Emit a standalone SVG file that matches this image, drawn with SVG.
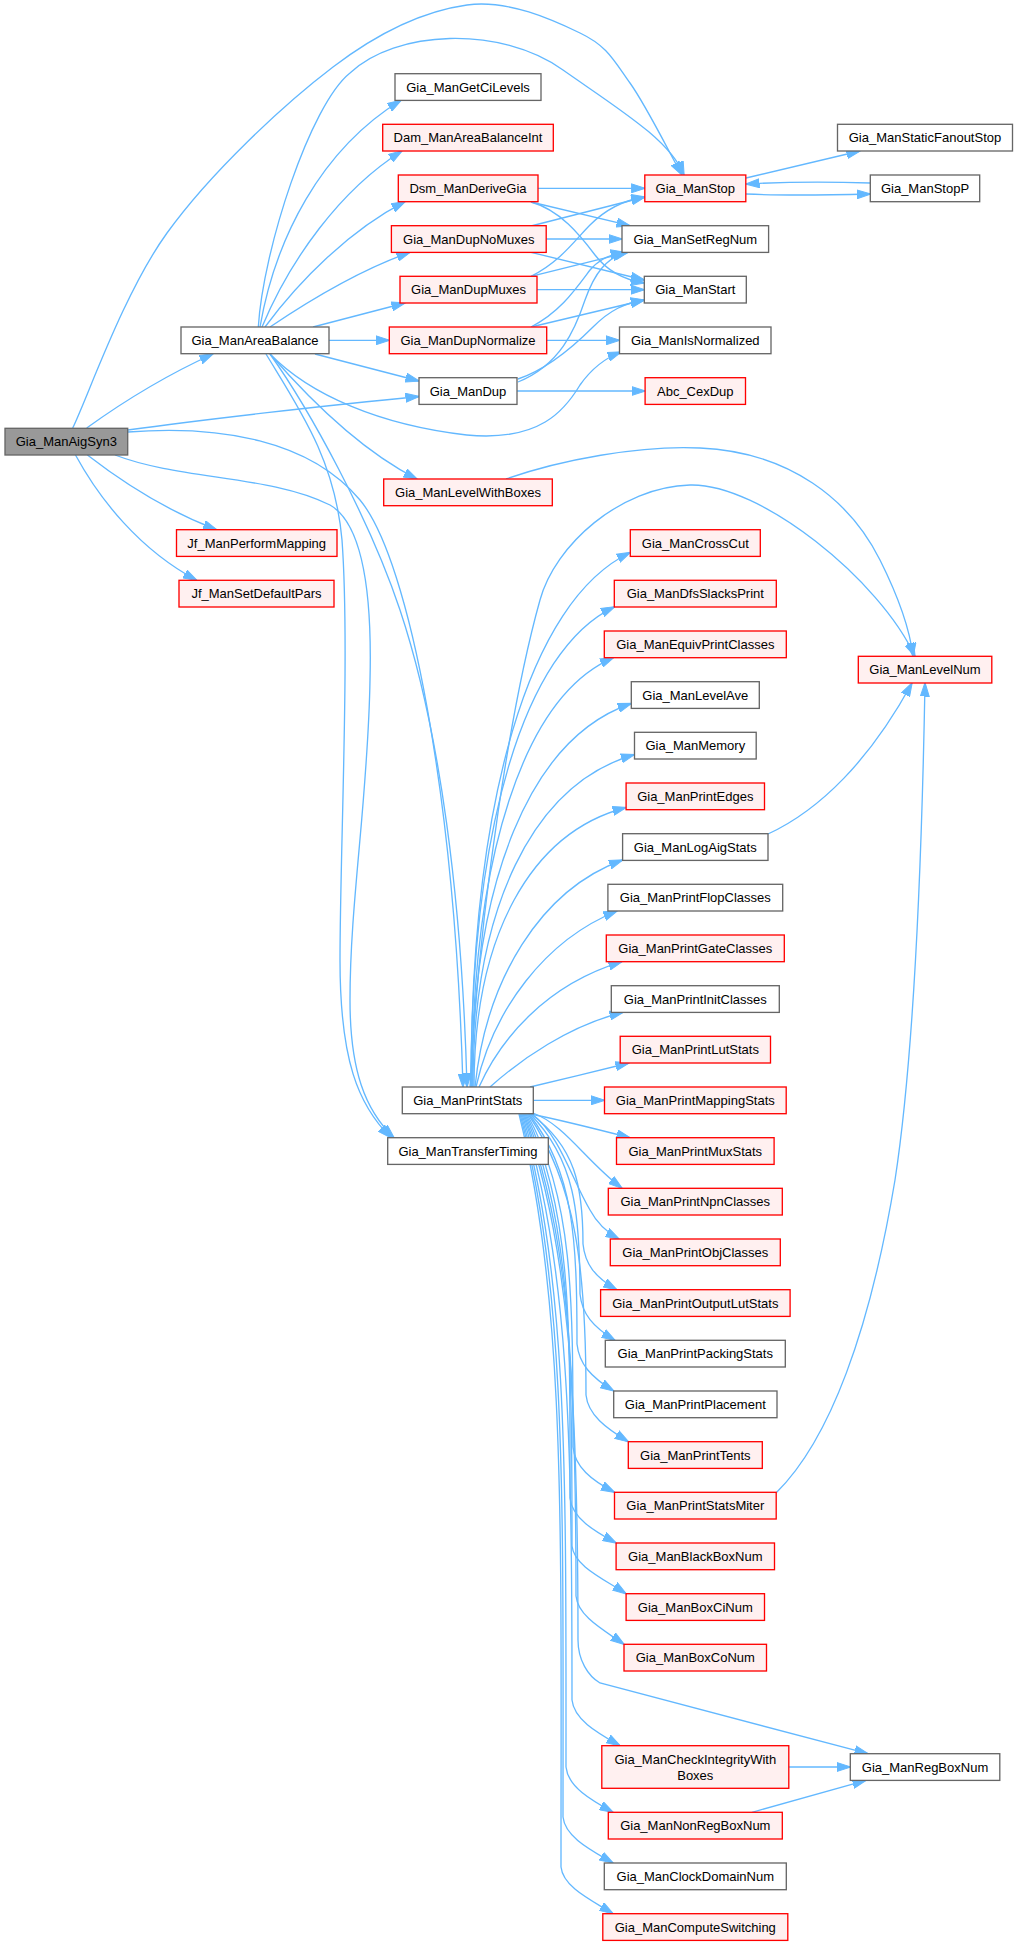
<svg xmlns="http://www.w3.org/2000/svg" width="1017" height="1946" viewBox="0 0 1017 1946">
<style>
.n rect{fill:#ffffff;stroke:#666666;stroke-width:1.33}
.r rect{fill:#fff0f0;stroke:#ff0000;stroke-width:1.33}
.root rect{fill:#999999;stroke:#666666;stroke-width:1.33}
text{font-family:"Liberation Sans",Arial,Helvetica,sans-serif;font-size:13px;text-anchor:middle;fill:#000000}
#edges path{fill:none;stroke:#63b8ff;stroke-width:1.33;marker-end:url(#a)}
</style>
<defs>
<marker id="a" viewBox="0 0 14 10" refX="13.5" refY="5" markerWidth="14" markerHeight="10" markerUnits="userSpaceOnUse" orient="auto">
<path d="M0,0.5 L14,5 L0,9.5 z" fill="#63b8ff" stroke="#63b8ff" stroke-width="1"/>
</marker>
</defs>
<rect x="0" y="0" width="1017" height="1946" fill="#ffffff"/>
<g id="edges">
<path d="M72.7,428 C88.4,395.5 123.6,293.2 167,233 C210.4,172.8 283,105 333,67 C383,29 425.8,10.7 467,5 C508.2,-0.7 552.8,20 580,33 C607.2,46 613.2,59.5 630,83 C646.8,106.5 672.5,158.8 682,175"/>
<path d="M86.7,428 C120,404 160,378 213,354"/>
<path d="M127.7,430 C200,420 330,405 419,396.5"/>
<path d="M128,432 C220,425 310,440 360,500 C410,560 455,800 463,1087"/>
<path d="M115,455 C180,480 270,475 330,505 C365,525 372,600 370,680 C368,800 350,900 350,1000 C350,1070 365,1110 394,1137.7"/>
<path d="M87.4,455 C130,488 170,512 216.6,529.7"/>
<path d="M75.5,455 C100,500 140,550 196.7,580.3"/>
<path d="M258.3,327 C263,250 310,105 350,73 C395,30 500,25 563,70 C620,110 670,140 684,175"/>
<path d="M260,327 C275,240 320,150 401,100.3"/>
<path d="M262,327 C290,260 340,190 402,151"/>
<path d="M265,327 C300,280 350,230 405,201.7"/>
<path d="M270,327 C310,300 360,270 410,252.3"/>
<path d="M313,327 L405,303"/>
<path d="M329,340.3 L389.3,340.3"/>
<path d="M315,354 L419,381"/>
<path d="M270,354 C310,395 380,425 466.7,435 C540,442 565,410 580,385 C592,368 605,358 621,352"/>
<path d="M270,354 C310,400 360,450 417,479"/>
<path d="M270,354 C310,410 370,520 400,610 C440,730 462,900 467,1087"/>
<path d="M266,354 C300,410 335,460 342,540 C350,650 340,850 340,960 C340,1060 358,1105 391,1137.7"/>
<path d="M538,188.3 L644.8,188.3"/>
<path d="M531,202 L630,225.7"/>
<path d="M531,202 C560,210 580,235 595,255 C608,272 625,280 644.3,283"/>
<path d="M531,226 L644.8,197"/>
<path d="M546.2,239 L622,239"/>
<path d="M531,252.3 L644.3,280"/>
<path d="M531,276.3 C560,262 575,240 590,225 C605,210 625,200 644.8,197"/>
<path d="M531,276.3 L628,252.3"/>
<path d="M537,289.7 L644.3,289.7"/>
<path d="M531,327 C560,312 575,290 590,270 C600,258 612,254 624,252.3"/>
<path d="M531,327 L644.3,300"/>
<path d="M546.7,340.3 L619.5,340.3"/>
<path d="M518,382 C560,365 575,330 585,300 C595,272 607,258 626,252.3"/>
<path d="M518,379 C545,370 570,350 593,327 C610,310 625,303 644.3,300"/>
<path d="M517,391 L645.1,391"/>
<path d="M746,178 L860,151"/>
<path d="M870.3,183 C840,182 800,181 746,184"/>
<path d="M746,194 C790,196 830,195 870.3,194"/>
<path d="M506,479 C560,460 640,445 700,448 C790,452 850,500 880,560 C900,600 910,630 913,656.3"/>
<path d="M470,1087 C480,900 512,700 540,600 C555,545 620,487 690,485 C760,483 880,580 915,656.3"/>
<path d="M471,1087 C471,800.5 529,600.6 630.3,552.5"/>
<path d="M471,1087 C471,829.5 523.4,649.7 614.5,606.8"/>
<path d="M472,1087 C472,856.8 523.6,696.2 613.5,657.7"/>
<path d="M472,1087 C472,881.4 530,738 631.3,703.5"/>
<path d="M473,1087 C473,908.8 531.8,784.4 634.5,754.5"/>
<path d="M474,1087 C474,937.2 529.5,832.7 626.1,807.5"/>
<path d="M475,1087 C486,980 540,890 622.6,860"/>
<path d="M476,1087 C493,1010 545,940 617,911"/>
<path d="M479,1087 C500,1040 545,985 622,961.7"/>
<path d="M490,1087 C520,1060 570,1025 623,1012.4"/>
<path d="M530,1087 C560,1080 600,1070 629,1063"/>
<path d="M533.3,1100.3 L604.5,1100.3"/>
<path d="M531,1114 C560,1120 600,1130 630,1137.7"/>
<path d="M533,1113 C565,1125 585,1160 622,1188.3"/>
<path d="M532,1114 C560,1135 572,1180 590,1210 C598,1225 608,1233 619,1239"/>
<path d="M531,1114 C575,1146.5 583,1185.5 583,1244 C585,1264 594.7,1277 616.7,1289.7"/>
<path d="M530,1114 C575,1159 580,1213 580,1294 C582,1314 593,1327 615,1340.3"/>
<path d="M529,1114 C574,1171.5 577,1240.5 577,1344 C579,1364 591,1377 613.7,1391"/>
<path d="M528,1114 C576,1184 586,1268.6 586,1395 C588,1415 606,1428 628.3,1441.7"/>
<path d="M527,1114 C573,1197 573,1297 573,1447 C575,1467 591,1480 614.5,1492.3"/>
<path d="M526,1114 C572,1210 570,1325 570,1498 C572,1518 594,1531 616.1,1543"/>
<path d="M525,1114 C571,1222 572,1351.6 572,1546 C574,1566 604,1579 626.1,1593.7"/>
<path d="M524,1114 C570,1234.5 576,1379 576,1596 C578,1616 602,1629 624,1644.3"/>
<path d="M523,1114 C570,1245.5 578,1403 578,1640 C578,1660 588,1676 600,1683 L868,1753.7"/>
<path d="M522,1114 C569,1260.5 572,1436 572,1700 C574,1720 598,1733 620,1745.7"/>
<path d="M521,1114 C568,1277 566,1473 566,1767 C568,1787 591,1800 613,1812.3"/>
<path d="M520,1114 C567,1290 563,1500.6 563,1817 C565,1837 591,1850 613,1863"/>
<path d="M519,1114 C566,1302 561,1528 561,1867 C563,1887 591,1900 613,1913.7"/>
<path d="M768,834 C820,810 870,760 912,683"/>
<path d="M776,1493 C830,1440 870,1330 895,1180 C915,1050 922,850 925,683"/>
<path d="M788.8,1767 L850.3,1767"/>
<path d="M752,1812.3 L866,1780.3"/>
</g>
<g id="n_Gia_ManAigSyn3" class="root"><rect x="5" y="428.3" width="122.7" height="26.7"/><text x="66.3" y="446.3">Gia_ManAigSyn3</text></g>
<g id="n_Gia_ManAreaBalance" class="n"><rect x="181" y="327" width="148" height="26.7"/><text x="255" y="344.9">Gia_ManAreaBalance</text></g>
<g id="n_Jf_ManPerformMapping" class="r"><rect x="176.5" y="529.7" width="160.5" height="26.7"/><text x="256.7" y="547.6">Jf_ManPerformMapping</text></g>
<g id="n_Jf_ManSetDefaultPars" class="r"><rect x="179" y="580.3" width="155" height="26.7"/><text x="256.5" y="598.3">Jf_ManSetDefaultPars</text></g>
<g id="n_Gia_ManGetCiLevels" class="n"><rect x="395" y="73.7" width="146" height="26.7"/><text x="468" y="91.6">Gia_ManGetCiLevels</text></g>
<g id="n_Dam_ManAreaBalanceInt" class="r"><rect x="382.7" y="124.3" width="170.6" height="26.7"/><text x="468" y="142.3">Dam_ManAreaBalanceInt</text></g>
<g id="n_Dsm_ManDeriveGia" class="r"><rect x="398.3" y="175" width="139.7" height="26.7"/><text x="468" y="192.9">Dsm_ManDeriveGia</text></g>
<g id="n_Gia_ManDupNoMuxes" class="r"><rect x="391.4" y="225.7" width="154.8" height="26.7"/><text x="468.8" y="243.6">Gia_ManDupNoMuxes</text></g>
<g id="n_Gia_ManDupMuxes" class="r"><rect x="400" y="276.3" width="137" height="26.7"/><text x="468.5" y="294.3">Gia_ManDupMuxes</text></g>
<g id="n_Gia_ManDupNormalize" class="r"><rect x="389.3" y="327" width="157.4" height="26.7"/><text x="468" y="344.9">Gia_ManDupNormalize</text></g>
<g id="n_Gia_ManDup" class="n"><rect x="419" y="377.7" width="98" height="26.7"/><text x="468" y="395.6">Gia_ManDup</text></g>
<g id="n_Gia_ManLevelWithBoxes" class="r"><rect x="383.7" y="479" width="168.6" height="26.7"/><text x="468" y="496.9">Gia_ManLevelWithBoxes</text></g>
<g id="n_Gia_ManPrintStats" class="n"><rect x="402.3" y="1087" width="131" height="26.7"/><text x="467.8" y="1104.9">Gia_ManPrintStats</text></g>
<g id="n_Gia_ManTransferTiming" class="n"><rect x="387.7" y="1137.7" width="160.6" height="26.7"/><text x="468" y="1155.6">Gia_ManTransferTiming</text></g>
<g id="n_Gia_ManStop" class="r"><rect x="644.8" y="175" width="101" height="26.7"/><text x="695.3" y="192.9">Gia_ManStop</text></g>
<g id="n_Gia_ManSetRegNum" class="n"><rect x="622" y="225.7" width="146.6" height="26.7"/><text x="695.3" y="243.6">Gia_ManSetRegNum</text></g>
<g id="n_Gia_ManStart" class="n"><rect x="644.3" y="276.3" width="102" height="26.7"/><text x="695.3" y="294.3">Gia_ManStart</text></g>
<g id="n_Gia_ManIsNormalized" class="n"><rect x="619.5" y="327" width="151.5" height="26.7"/><text x="695.3" y="344.9">Gia_ManIsNormalized</text></g>
<g id="n_Abc_CexDup" class="r"><rect x="645.1" y="377.7" width="100.4" height="26.7"/><text x="695.3" y="395.6">Abc_CexDup</text></g>
<g id="n_Gia_ManCrossCut" class="r"><rect x="630.3" y="529.7" width="130" height="26.7"/><text x="695.3" y="547.6">Gia_ManCrossCut</text></g>
<g id="n_Gia_ManDfsSlacksPrint" class="r"><rect x="614.3" y="580.3" width="162" height="26.7"/><text x="695.3" y="598.3">Gia_ManDfsSlacksPrint</text></g>
<g id="n_Gia_ManEquivPrintClasses" class="r"><rect x="604.3" y="631" width="182" height="26.7"/><text x="695.3" y="648.9">Gia_ManEquivPrintClasses</text></g>
<g id="n_Gia_ManLevelAve" class="n"><rect x="631.3" y="681.7" width="128" height="26.7"/><text x="695.3" y="699.6">Gia_ManLevelAve</text></g>
<g id="n_Gia_ManMemory" class="n"><rect x="634.5" y="732.3" width="121.7" height="26.7"/><text x="695.3" y="750.3">Gia_ManMemory</text></g>
<g id="n_Gia_ManPrintEdges" class="r"><rect x="626.1" y="783" width="138.4" height="26.7"/><text x="695.3" y="800.9">Gia_ManPrintEdges</text></g>
<g id="n_Gia_ManLogAigStats" class="n"><rect x="622.6" y="833.7" width="145.4" height="26.7"/><text x="695.3" y="851.6">Gia_ManLogAigStats</text></g>
<g id="n_Gia_ManPrintFlopClasses" class="n"><rect x="607.9" y="884.3" width="174.8" height="26.7"/><text x="695.3" y="902.3">Gia_ManPrintFlopClasses</text></g>
<g id="n_Gia_ManPrintGateClasses" class="r"><rect x="606.3" y="935" width="178" height="26.7"/><text x="695.3" y="952.9">Gia_ManPrintGateClasses</text></g>
<g id="n_Gia_ManPrintInitClasses" class="n"><rect x="611.3" y="985.7" width="168" height="26.7"/><text x="695.3" y="1003.6">Gia_ManPrintInitClasses</text></g>
<g id="n_Gia_ManPrintLutStats" class="r"><rect x="620.2" y="1036.3" width="150.3" height="26.7"/><text x="695.3" y="1054.3">Gia_ManPrintLutStats</text></g>
<g id="n_Gia_ManPrintMappingStats" class="r"><rect x="604.5" y="1087" width="181.7" height="26.7"/><text x="695.3" y="1104.9">Gia_ManPrintMappingStats</text></g>
<g id="n_Gia_ManPrintMuxStats" class="r"><rect x="616.5" y="1137.7" width="157.6" height="26.7"/><text x="695.3" y="1155.6">Gia_ManPrintMuxStats</text></g>
<g id="n_Gia_ManPrintNpnClasses" class="r"><rect x="608.3" y="1188.3" width="174" height="26.7"/><text x="695.3" y="1206.3">Gia_ManPrintNpnClasses</text></g>
<g id="n_Gia_ManPrintObjClasses" class="r"><rect x="610.3" y="1239" width="170" height="26.7"/><text x="695.3" y="1256.9">Gia_ManPrintObjClasses</text></g>
<g id="n_Gia_ManPrintOutputLutStats" class="r"><rect x="600.6" y="1289.7" width="189.5" height="26.7"/><text x="695.3" y="1307.6">Gia_ManPrintOutputLutStats</text></g>
<g id="n_Gia_ManPrintPackingStats" class="n"><rect x="605.3" y="1340.3" width="180" height="26.7"/><text x="695.3" y="1358.3">Gia_ManPrintPackingStats</text></g>
<g id="n_Gia_ManPrintPlacement" class="n"><rect x="613.7" y="1391" width="163.3" height="26.7"/><text x="695.3" y="1408.9">Gia_ManPrintPlacement</text></g>
<g id="n_Gia_ManPrintTents" class="r"><rect x="628.3" y="1441.7" width="134" height="26.7"/><text x="695.3" y="1459.6">Gia_ManPrintTents</text></g>
<g id="n_Gia_ManPrintStatsMiter" class="r"><rect x="614.5" y="1492.3" width="161.7" height="26.7"/><text x="695.3" y="1510.3">Gia_ManPrintStatsMiter</text></g>
<g id="n_Gia_ManBlackBoxNum" class="r"><rect x="616.1" y="1543" width="158.4" height="26.7"/><text x="695.3" y="1560.9">Gia_ManBlackBoxNum</text></g>
<g id="n_Gia_ManBoxCiNum" class="r"><rect x="626.1" y="1593.7" width="138.4" height="26.7"/><text x="695.3" y="1611.6">Gia_ManBoxCiNum</text></g>
<g id="n_Gia_ManBoxCoNum" class="r"><rect x="624" y="1644.3" width="142.5" height="26.7"/><text x="695.3" y="1662.3">Gia_ManBoxCoNum</text></g>
<g id="n_Gia_ManCheckIntegrityWithBoxes" class="r"><rect x="601.8" y="1745.7" width="187" height="42.6"/><text x="695.3" y="1763.9">Gia_ManCheckIntegrityWith</text><text x="695.3" y="1779.9">Boxes</text></g>
<g id="n_Gia_ManNonRegBoxNum" class="r"><rect x="608.3" y="1812.3" width="174" height="26.7"/><text x="695.3" y="1830.3">Gia_ManNonRegBoxNum</text></g>
<g id="n_Gia_ManClockDomainNum" class="n"><rect x="604.3" y="1863" width="182" height="26.7"/><text x="695.3" y="1880.9">Gia_ManClockDomainNum</text></g>
<g id="n_Gia_ManComputeSwitching" class="r"><rect x="602.8" y="1913.7" width="185" height="26.7"/><text x="695.3" y="1931.6">Gia_ManComputeSwitching</text></g>
<g id="n_Gia_ManStaticFanoutStop" class="n"><rect x="837.5" y="124.3" width="175" height="26.7"/><text x="925" y="142.3">Gia_ManStaticFanoutStop</text></g>
<g id="n_Gia_ManStopP" class="n"><rect x="870.3" y="175" width="109.4" height="26.7"/><text x="925" y="192.9">Gia_ManStopP</text></g>
<g id="n_Gia_ManLevelNum" class="r"><rect x="858.3" y="656.3" width="133.5" height="26.7"/><text x="925" y="674.3">Gia_ManLevelNum</text></g>
<g id="n_Gia_ManRegBoxNum" class="n"><rect x="850.3" y="1753.7" width="149.5" height="26.7"/><text x="925" y="1771.6">Gia_ManRegBoxNum</text></g>
</svg>
